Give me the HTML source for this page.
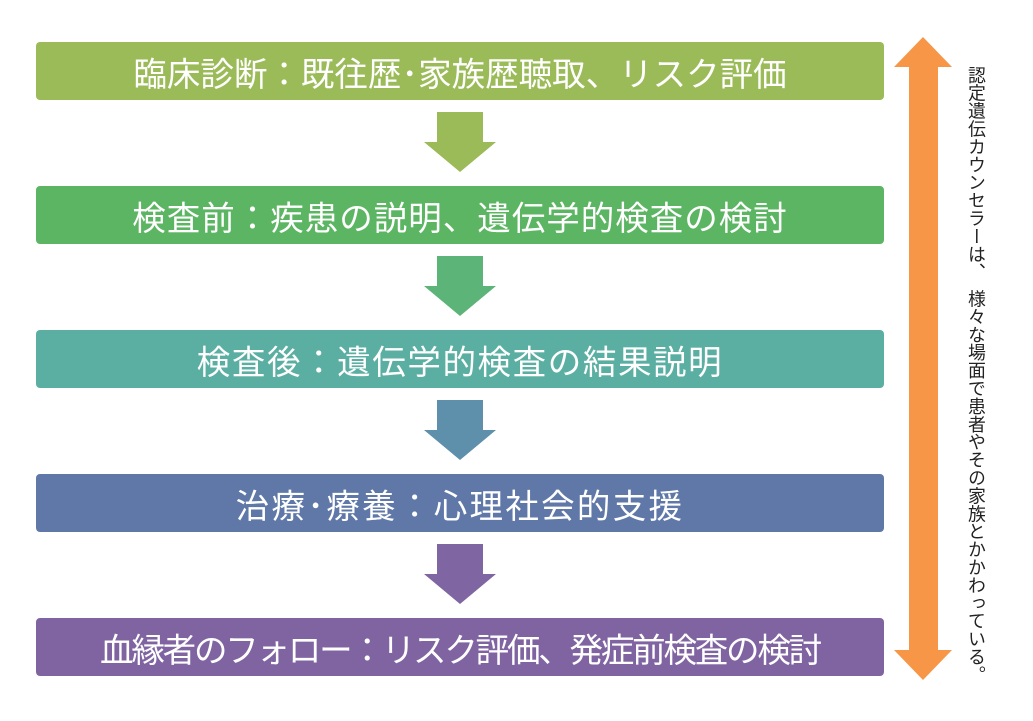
<!DOCTYPE html>
<html><head><meta charset="utf-8"><style>
body{margin:0;width:1033px;height:721px;background:#fff;position:relative;overflow:hidden;font-family:"Liberation Sans","Noto Sans CJK JP",sans-serif}
.b{position:absolute;left:36px;width:848px;height:58px;border-radius:4px;color:#fff;font-size:33.5px;display:flex;align-items:center;justify-content:center;white-space:nowrap}
.v{position:absolute;left:966px;top:66px;writing-mode:vertical-rl;font-size:17.9px;color:#222;line-height:1;white-space:nowrap}
</style></head><body>
<div class="b" style="top:42px;background:#9bbb59">臨床診断：既往歴･家族歴聴取、リスク評価</div>
<div class="b" style="top:186px;background:#5cb562;letter-spacing:1px">検査前：疾患の説明、遺伝学的検査の検討</div>
<div class="b" style="top:330px;background:#5bafa2;letter-spacing:1.6px">検査後：遺伝学的検査の結果説明</div>
<div class="b" style="top:474px;background:#5f78a8;letter-spacing:2.3px">治療･療養：心理社会的支援</div>
<div class="b" style="top:618px;background:#8064a2;letter-spacing:-2.2px">血縁者のフォロー：リスク評価、発症前検査の検討</div>
<svg width="1033" height="721" style="position:absolute;left:0;top:0">
<polygon points="437,112 483,112 483,142 496,142 460,172 424,142 437,142" fill="#9bbb59"/>
<polygon points="437,256 483,256 483,286 496,286 460,316 424,286 437,286" fill="#5db479"/>
<polygon points="437,400 483,400 483,430 496,430 460,460 424,430 437,430" fill="#5e8fab"/>
<polygon points="437,544 483,544 483,574 496,574 460,604 424,574 437,574" fill="#7f66a3"/>
<polygon points="923,37 952,67 938,67 938,650 952,650 923,680 894,650 909,650 909,67 894,67" fill="#f79646"/>
</svg>
<div class="v">認定遺伝カウンセラーは、　様々な場面で患者やその家族とかかわっている。</div>
</body></html>
